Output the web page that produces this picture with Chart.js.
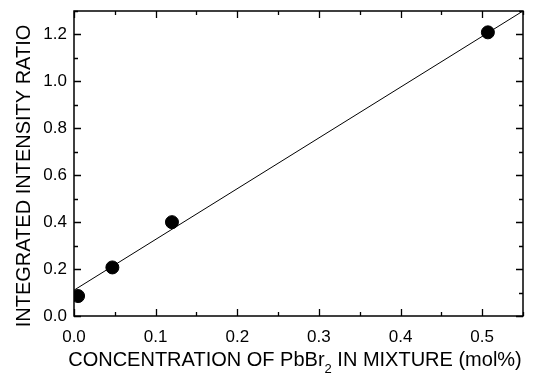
<!DOCTYPE html>
<html>
<head>
<meta charset="utf-8">
<script src="https://cdn.jsdelivr.net/npm/chart.js@4.4.1/dist/chart.umd.min.js"></script>
<style>
  html, body { margin: 0; padding: 0; background: #fff; }
  #wrap { width: 536px; height: 376px; }
</style>
</head>
<body>
<div id="wrap"><canvas id="c"></canvas></div>
<script>
// measured points (mol% vs integrated intensity ratio)
const concX = [0.005, 0.047, 0.12, 0.507];
const ratioY = [0.085, 0.207, 0.40, 1.209];
// linear fit line end points
const fitX = [0, 0.55];
const fitY = [0.11, 1.30];

const xTitleParts = ["CONCENTRATION OF PbBr", "2", " IN MIXTURE (mol%)"];
const yTitle = "INTEGRATED INTENSITY RATIO";

const FONT = "'Liberation Sans', Arial, sans-serif";

// inward ticks on all four sides, frame, and axis titles
const frameTicks = {
  id: "frameTicks",
  afterDraw(chart) {
    const { ctx, chartArea: a, scales } = chart;
    ctx.save();
    ctx.strokeStyle = "#000";
    ctx.lineWidth = 1.3;
    scales.x.ticks.forEach(t => {
      const px = Math.round(scales.x.getPixelForValue(t.value)) + 0.5;
      const major = Math.abs(t.value * 10 - Math.round(t.value * 10)) < 1e-6;
      const len = major ? 7 : 4;
      ctx.beginPath();
      ctx.moveTo(px, a.bottom); ctx.lineTo(px, a.bottom - len);
      ctx.moveTo(px, a.top); ctx.lineTo(px, a.top + len);
      ctx.stroke();
    });
    scales.y.ticks.forEach(t => {
      const py = Math.round(scales.y.getPixelForValue(t.value)) + 0.5;
      const major = Math.abs(t.value * 5 - Math.round(t.value * 5)) < 1e-6;
      const len = major ? 7 : 4;
      ctx.beginPath();
      ctx.moveTo(a.left, py); ctx.lineTo(a.left + len, py);
      ctx.moveTo(a.right, py); ctx.lineTo(a.right - len, py);
      ctx.stroke();
    });
    ctx.lineWidth = 1.5;
    ctx.strokeRect(a.left, a.top, a.right - a.left, a.bottom - a.top);

    // x title with a real subscript
    const big = "20px " + FONT, small = "13px " + FONT;
    ctx.fillStyle = "#000";
    ctx.textBaseline = "middle";
    ctx.font = big;
    const w0 = ctx.measureText(xTitleParts[0]).width;
    const w2 = ctx.measureText(xTitleParts[2]).width;
    ctx.font = small;
    const w1 = ctx.measureText(xTitleParts[1]).width;
    let x = 295 - (w0 + w1 + w2) / 2;
    const y = 360;
    ctx.textAlign = "left";
    ctx.font = big;
    ctx.fillText(xTitleParts[0], x, y);
    x += w0;
    ctx.font = small;
    ctx.fillText(xTitleParts[1], x, y + 9);
    x += w1;
    ctx.font = big;
    ctx.fillText(xTitleParts[2], x, y);

    // y title, rotated
    ctx.translate(24, 176);
    ctx.rotate(-Math.PI / 2);
    ctx.textAlign = "center";
    ctx.font = big;
    ctx.fillText(yTitle, 0, 0);
    ctx.restore();
  }
};

new Chart(document.getElementById("c"), {
  type: "scatter",
  data: {
    datasets: [
      {
        data: concX.map((x, i) => ({ x, y: ratioY[i] })),
        backgroundColor: "#000",
        borderColor: "#000",
        pointRadius: 6.5,
        pointHoverRadius: 6.5,
        order: 1
      },
      {
        type: "line",
        data: fitX.map((x, i) => ({ x, y: fitY[i] })),
        borderColor: "#000",
        borderWidth: 1,
        pointRadius: 0,
        fill: false,
        order: 2
      }
    ]
  },
  options: {
    responsive: true,
    maintainAspectRatio: false,
    animation: false,
    events: [],
    layout: { padding: { top: 11, right: 13, left: 0, bottom: 0 } },
    plugins: { legend: { display: false }, tooltip: { enabled: false } },
    scales: {
      x: {
        type: "linear",
        min: 0, max: 0.55,
        afterFit: s => { s.height = 60; s.paddingLeft = 0; s.paddingRight = 0; },
        grid: { display: false, drawTicks: false },
        border: { display: false },
        ticks: {
          stepSize: 0.05,
          autoSkip: false,
          maxRotation: 0,
          padding: 11,
          color: "#000",
          font: { family: FONT, size: 17 },
          callback: v => (Math.abs(v * 10 - Math.round(v * 10)) < 1e-6 ? v.toFixed(1) : "")
        }
      },
      y: {
        type: "linear",
        min: 0, max: 1.3,
        afterFit: s => { s.width = 74; s.paddingTop = 0; s.paddingBottom = 0; },
        grid: { display: false, drawTicks: false },
        border: { display: false },
        ticks: {
          stepSize: 0.1,
          autoSkip: false,
          padding: 7,
          color: "#000",
          font: { family: FONT, size: 17 },
          callback: v => (Math.abs(v * 5 - Math.round(v * 5)) < 1e-6 ? v.toFixed(1) : "")
        }
      }
    }
  },
  plugins: [frameTicks]
});
</script>
</body>
</html>
